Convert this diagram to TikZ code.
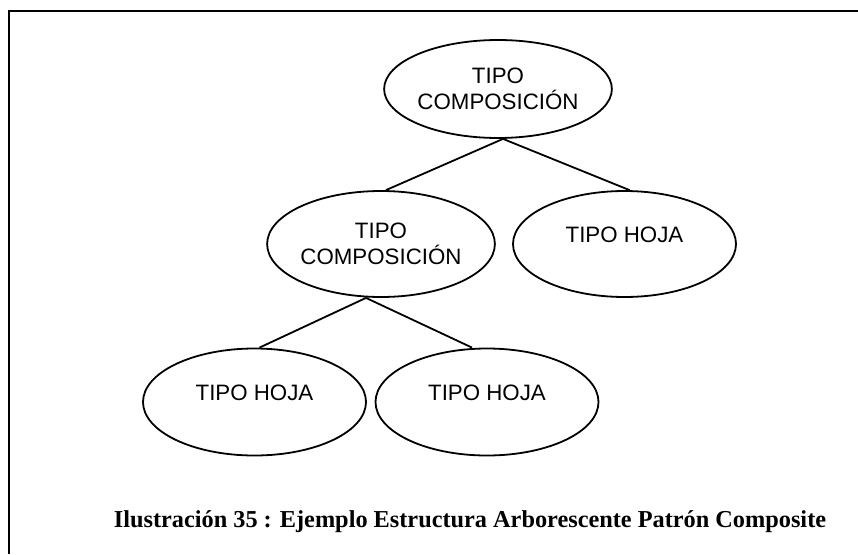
\documentclass[tikz,border=0pt]{standalone}
\usepackage{fontspec}
\setmainfont{Liberation Serif}
\newfontfamily\arialfont{Liberation Sans}
\usetikzlibrary{shapes.geometric}

\tikzset{
  nodo/.style={draw, ellipse, line width=1.8pt, inner sep=0pt, minimum width=223pt, minimum height=106pt,
               font=\arialfont\fontsize{22.3}{26}\selectfont, align=center},
  hoja/.style={nodo, text height=16pt, text depth=20pt},
  rama/.style={line width=1.8pt}
}

\begin{document}
\begin{tikzpicture}[x=1pt, y=-1pt]
                \useasboundingbox (0,0) rectangle (858,554);
                \draw[line width=2.6pt] (858,11) -- (9,11) -- (9,554);
                \node[nodo, minimum height=98pt] (raiz) at (498,89) {TIPO\\COMPOSICIÓN};
                \node[nodo, minimum width=224pt] (compo) at (381,244) {TIPO\\COMPOSICIÓN};
                \node[hoja] (hojaDer) at (624.5,244) {TIPO HOJA};
                \node[hoja, minimum height=107pt] (hojaIzq) at (254.5,402) {TIPO HOJA};
                \node[hoja, minimum height=107pt] (hojaMed) at (487,402) {TIPO HOJA};
                \draw[rama] ([xshift=5pt]raiz.south) -- ([xshift=5pt]compo.north);
                \draw[rama] ([xshift=5pt]raiz.south) -- ([xshift=5pt]hojaDer.north);
                \draw[rama] ([xshift=-15pt]compo.south) -- ([xshift=5pt]hojaIzq.north);
                \draw[rama] ([xshift=-15pt]compo.south) -- ([xshift=-15pt]hojaMed.north);
                \node[font=\bfseries\fontsize{24.3}{28}\selectfont, anchor=base] (titulo) at (470,527) {Ilustración 35 : Ejemplo Estructura Arborescente Patrón Composite};
            \end{tikzpicture}
\end{document}
